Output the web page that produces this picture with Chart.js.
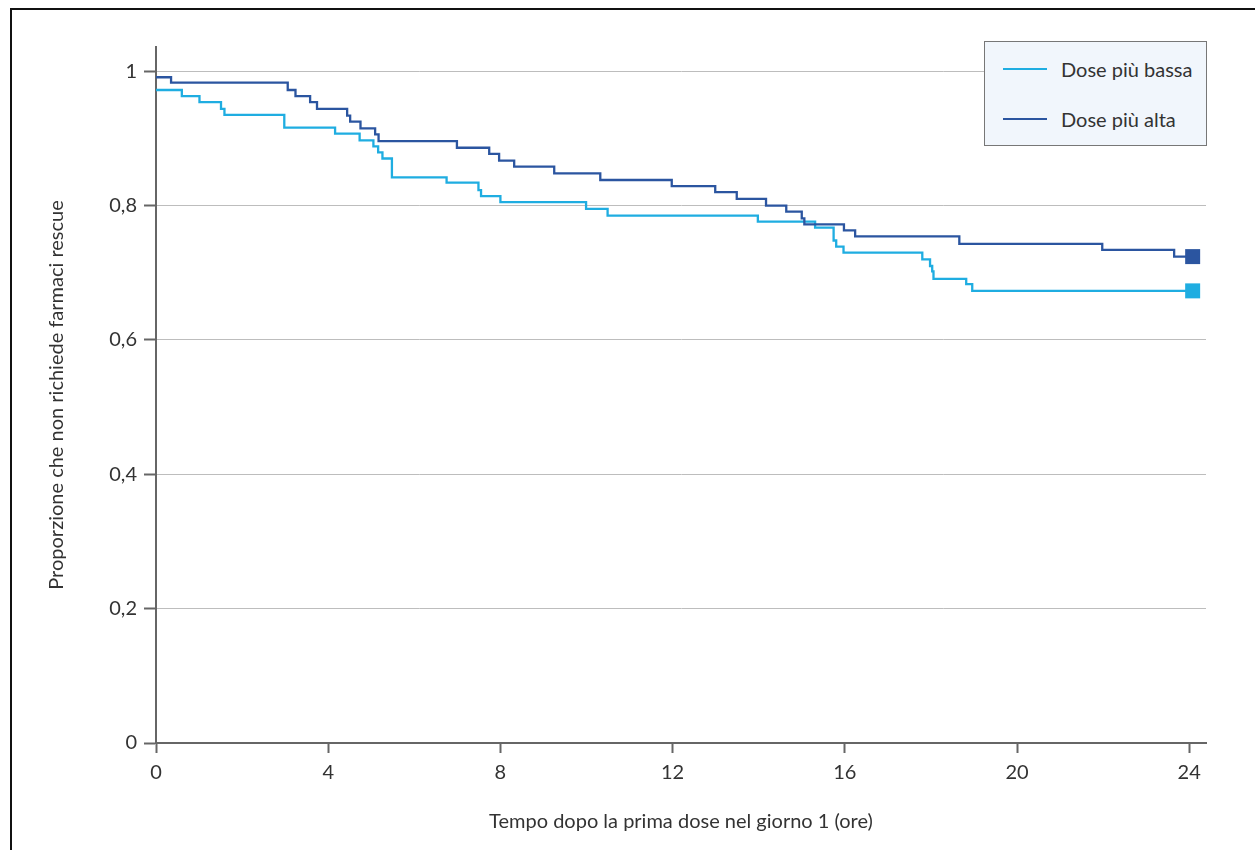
<!DOCTYPE html>
<html>
<head>
<meta charset="utf-8">
<script src="https://cdn.jsdelivr.net/npm/chart.js@4"></script>
<style>
    body { margin: 0; background: #fff; }
    #wrap { position: relative; width: 1255px; height: 850px; overflow: hidden; }
    #frame { position: absolute; left: 10px; top: 8px; width: 1260px; height: 860px;
             border-top: 2px solid #111; border-left: 2px solid #111; }
    #legend { position: absolute; left: 984px; top: 41px; width: 221px; height: 103px;
              background: #f1f6fc; border: 1px solid #777; font-family: Lato, sans-serif;
              font-size: 20px; color: #333; }
    .item { position: absolute; left: 18px; height: 24px; line-height: 24px; }
    .item span.sample { position: absolute; left: 0; top: 11px; width: 44px; height: 2px; }
    .item span.label { position: absolute; left: 58px; top: 0; white-space: nowrap; }
</style>
</head>
<body>
<div id="wrap">
    <canvas id="kmChart" width="1255" height="850"></canvas>
    <div id="frame"></div>
    <div id="legend"></div>
</div>
<script>
// Curve di Kaplan-Meier (ore, proporzione)
const oreBassa = [0, 0.60, 1.01, 1.51, 1.59, 2.98, 4.16, 4.73, 5.05, 5.16, 5.26, 5.48, 6.75, 7.49, 7.55, 8.00,
    9.99, 10.49, 13.98, 15.31, 15.74, 15.80, 15.97, 17.80, 17.98, 18.03, 18.06, 18.82, 18.96, 24.08];
const propBassa = [0.972, 0.963, 0.954, 0.944, 0.935, 0.916, 0.907, 0.897, 0.888, 0.879, 0.870, 0.842, 0.834, 0.823, 0.814, 0.805,
    0.795, 0.785, 0.776, 0.767, 0.748, 0.739, 0.730, 0.720, 0.710, 0.702, 0.691, 0.683, 0.673, 0.673];

const oreAlta = [0, 0.35, 3.06, 3.24, 3.58, 3.74, 4.44, 4.51, 4.75, 5.09, 5.17, 6.99, 7.74, 7.97, 8.32, 9.25,
    10.32, 11.98, 12.99, 13.49, 14.17, 14.64, 15.00, 15.06, 15.98, 16.24, 18.66, 21.98, 23.65, 24.08];
const propAlta = [0.991, 0.983, 0.972, 0.963, 0.954, 0.944, 0.934, 0.925, 0.915, 0.906, 0.896, 0.886, 0.877, 0.867, 0.858, 0.848,
    0.838, 0.829, 0.820, 0.810, 0.800, 0.791, 0.781, 0.772, 0.763, 0.754, 0.743, 0.734, 0.724, 0.724];

const xTicks = [0, 4, 8, 12, 16, 20, 24];
const yTicks = [0, 0.2, 0.4, 0.6, 0.8, 1];

const series = [
    { label: "Dose più bassa", ore: oreBassa, prop: propBassa, color: "#1fade1" },
    { label: "Dose più alta", ore: oreAlta, prop: propAlta, color: "#2b55a0" }
];

const axisColor = "#666666";
const fontFamily = "Lato, sans-serif";

function toPoints(ore, prop) {
    return ore.map((t, i) => ({ x: t, y: prop[i] }));
}

// legenda in HTML
const legend = document.getElementById("legend");
series.forEach((s, i) => {
    const item = document.createElement("div");
    item.className = "item";
    item.style.top = (i === 0 ? 15 : 65) + "px";
    item.innerHTML = '<span class="sample" style="background:' + s.color + '"></span><span class="label">' + s.label + '</span>';
    legend.appendChild(item);
});

const datasets = series.slice().reverse().map((s) => ({
    label: s.label,
    data: toPoints(s.ore, s.prop),
    borderColor: s.color,
    backgroundColor: s.color,
    borderWidth: 2.3,
    stepped: true,
    tension: 0,
    fill: false,
    pointStyle: "rect",
    pointBorderWidth: 0,
    pointRadius: (ctx) => (ctx.dataIndex === s.ore.length - 1 ? 10.6 : 0),
    pointHoverRadius: 0
}));

const ctx = document.getElementById("kmChart").getContext("2d");

new Chart(ctx, {
    type: "line",
    data: { datasets: datasets },
    options: {
        responsive: false,
        animation: false,
        layout: { padding: { left: 35, top: 47, right: 49, bottom: 16 } },
        plugins: {
            legend: { display: false },
            tooltip: { enabled: false }
        },
        scales: {
            x: {
                type: "linear",
                min: 0,
                max: 24.39,
                afterBuildTicks: (scale) => { scale.ticks = xTicks.map((v) => ({ value: v })); },
                afterFit: (scale) => { scale.height = 91; },
                ticks: {
                    color: "#333",
                    font: { family: fontFamily, size: 20 },
                    padding: 8,
                    maxRotation: 0,
                    callback: (v) => String(v)
                },
                grid: {
                    drawOnChartArea: false,
                    drawTicks: true,
                    tickLength: 10,
                    tickColor: axisColor,
                    tickWidth: 2
                },
                border: { color: axisColor, width: 2 },
                title: {
                    display: true,
                    text: "Tempo dopo la prima dose nel giorno 1 (ore)",
                    color: "#333",
                    font: { family: fontFamily, size: 20 },
                    padding: 0
                }
            },
            y: {
                min: 0,
                max: 1.036,
                afterBuildTicks: (scale) => { scale.ticks = yTicks.map((v) => ({ value: v })); },
                afterFit: (scale) => { scale.width = 121; },
                ticks: {
                    color: "#333",
                    font: { family: fontFamily, size: 20 },
                    padding: 7,
                    callback: (v) => String(Math.round(v * 10) / 10).replace(".", ",")
                },
                grid: {
                    color: "#bdbdbd",
                    lineWidth: 1,
                    drawTicks: true,
                    tickLength: 12,
                    tickColor: axisColor,
                    tickWidth: 2
                },
                border: { color: axisColor, width: 2 },
                title: {
                    display: true,
                    text: "Proporzione che non richiede farmaci rescue",
                    color: "#333",
                    font: { family: fontFamily, size: 20 },
                    padding: { top: 10, bottom: 0 }
                }
            }
        }
    }
});
</script>
</body>
</html>
